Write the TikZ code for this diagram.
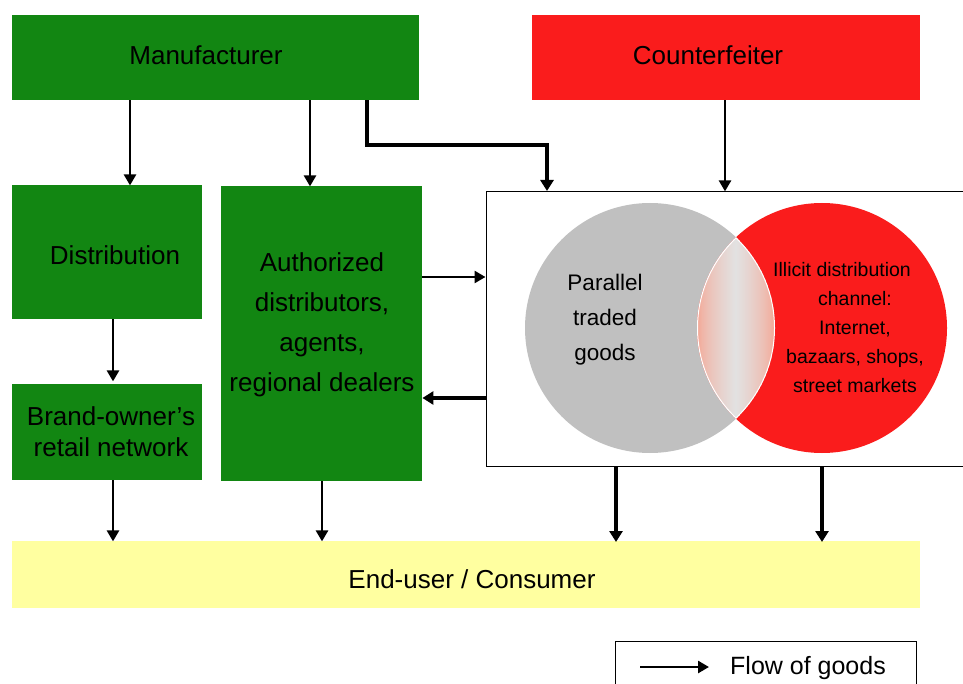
\documentclass[tikz,border=0pt]{standalone}
\usepackage{fontspec}
\setmainfont{Liberation Sans}
\usetikzlibrary{arrows.meta}
\definecolor{boxgreen}{RGB}{18,134,18}
\definecolor{boxred}{RGB}{250,28,28}
\definecolor{venngray}{RGB}{192,192,192}
\definecolor{consumeryellow}{RGB}{255,255,160}
\definecolor{lenssalmon}{RGB}{246,160,140}
\definecolor{lensgray}{RGB}{226,226,226}
\tikzset{
  block/.style={draw=none, inner sep=0pt, anchor=north west},
  greenbox/.style={block, fill=boxgreen},
  redbox/.style={block, fill=boxred},
  bigtext/.style={font=\fontsize{26}{40}\selectfont, align=center, inner sep=0pt},
  midtext/.style={font=\fontsize{22.5}{35}\selectfont, align=center, inner sep=0pt},
  smalltext/.style={font=\fontsize{19.5}{29}\selectfont, align=center, inner sep=0pt},
  flow/.style={line width=2.6pt, -{Triangle[length=11pt,width=12pt]}},
  thickflow/.style={line width=3.2pt, -{Triangle[length=11pt,width=13pt]}},
}
\begin{document}
\begin{tikzpicture}[x=1pt, y=-1pt]
\useasboundingbox (0,0) rectangle (963,684);
\clip (0,0) rectangle (963,684);

% top row
\node[greenbox, minimum width=407pt, minimum height=85pt] (man) at (12,15) {};
\node[bigtext] (mantext) at (206,55) {Manufacturer};
\node[redbox, minimum width=388pt, minimum height=85pt] (cf) at (532,15) {};
\node[bigtext] (cftext) at (708,55) {Counterfeiter};

% left column
\node[greenbox, minimum width=190pt, minimum height=134pt] (dist) at (12,185) {};
\node[bigtext] (disttext) at (115,255) {Distribution};
\node[greenbox, minimum width=190pt, minimum height=96pt] (brand) at (12,384) {};
\node[bigtext, font=\fontsize{26}{31}\selectfont] (brandtext) at (111,432) {Brand-owner’s\\retail network};

% authorized distributors
\node[greenbox, minimum width=201pt, minimum height=295pt] (auth) at (221,186) {};
\node[bigtext] (authtext) at (322,325) {Authorized\\distributors,\\agents,\\regional dealers};

% grey market box
\node[block, draw=black, line width=1pt, minimum width=477pt, minimum height=275pt] (grey) at (485.5,191) {};

% Venn diagram
\fill[venngray] (650,328) circle (125);
\fill[boxred] (822,328) circle (125);
\begin{scope}
  \clip (650,328) circle (125);
  \clip (822,328) circle (125);
  % overlap lens: salmon at both sides, pale grey in the middle
  \foreach \i in {0,...,77} {
    \pgfmathtruncatemacro\p{100*(1-abs(\i+0.5-39)/39)^0.6}
    \fill[lensgray!\p!lenssalmon] (697+\i,200) rectangle (698.3+\i,456);
  }
  \draw[white, line width=2pt] (650,328) circle (125);
  \draw[white, line width=2pt] (822,328) circle (125);
\end{scope}
\node[midtext] (paralleltext) at (605,320) {Parallel\\traded\\goods};
\node[smalltext] (illicittext) at (855,328) {Illicit distribution\hspace*{26pt}\\channel:\\Internet,\\bazaars, shops,\\street markets};

% consumer bar
\node[block, fill=consumeryellow, minimum width=908pt, minimum height=67pt] (cons) at (12,541) {};
\node[bigtext] (constext) at (472,579) {End-user / Consumer};

% legend
\node[block, draw=black, line width=1pt, minimum width=301pt, minimum height=60pt] (legend) at (614.5,640.5) {};
\coordinate (legA) at (640,667);
\coordinate (legB) at (709,667);
\draw[flow] (legA) -- (legB);
\node[font=\fontsize{25}{30}\selectfont, inner sep=0pt] (legtext) at (808,668) {Flow of goods};

% flows of goods
\draw[flow] (man.south west) ++(118,0) -- ++(0,85);
\draw[flow] (man.south west) ++(298,0) -- ++(0,86);
\draw[thickflow] (man.south west) ++(355,0) |- (547,145) -- (547,191);
\draw[flow] (cf.south west) ++(193,0) -- ++(0,91);
\draw[flow] (dist.south west) ++(101,0) -- ++(0,62);
\draw[flow] (brand.south west) ++(101,0) -- ++(0,61);
\draw[flow] (auth.south west) ++(101,0) -- ++(0,60);
\draw[flow] (auth.east |- 0,277) -- (grey.west |- 0,277);
\draw[thickflow] (grey.west |- 0,398) -- (auth.east |- 0,398);
\draw[thickflow] (grey.south west) ++(130.5,0) -- ++(0,75);
\draw[thickflow] (grey.south west) ++(336.5,0) -- ++(0,75);
\end{tikzpicture}
\end{document}
